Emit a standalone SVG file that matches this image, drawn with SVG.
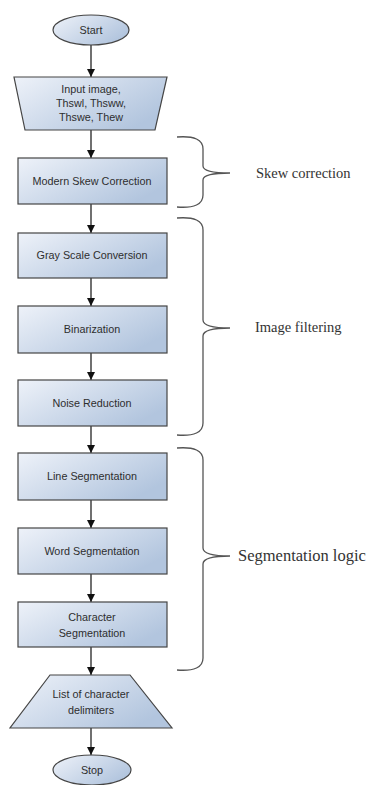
<svg xmlns="http://www.w3.org/2000/svg" width="370" height="785" viewBox="0 0 370 785">
  <defs>
    <linearGradient id="fillGrad" x1="0" y1="0" x2="1" y2="0.6">
      <stop offset="0" stop-color="#eef2f9"/>
      <stop offset="1" stop-color="#b2c5de"/>
    </linearGradient>
    <marker id="arrow" viewBox="0 0 10 10" refX="10" refY="5" markerWidth="8" markerHeight="8" markerUnits="userSpaceOnUse" orient="auto">
      <path d="M0,0 L10,5 L0,10 z" fill="#111"/>
    </marker>
    <style>
      .shape { fill: url(#fillGrad); stroke: #454545; stroke-width: 1.2; }
      .lbl { font-family: "Liberation Sans", Arial, sans-serif; font-size: 10.8px; fill: #2e2e2e; text-anchor: middle; }
      .note { font-family: "Liberation Serif", "Times New Roman", serif; font-size: 14.5px; fill: #333; }
      .conn { stroke: #111; stroke-width: 1.2; fill: none; marker-end: url(#arrow); }
      .brace { stroke: #555; stroke-width: 1.3; fill: none; }
    </style>
  </defs>
  <rect width="370" height="785" fill="#ffffff"/>

  <!-- connectors -->
  <g id="connectors">
    <line class="conn" x1="91" y1="45" x2="91" y2="77"/>
    <line class="conn" x1="91" y1="130" x2="91" y2="158"/>
    <line class="conn" x1="91" y1="204" x2="91" y2="233"/>
    <line class="conn" x1="91" y1="278" x2="91" y2="306"/>
    <line class="conn" x1="91" y1="353" x2="91" y2="380"/>
    <line class="conn" x1="91" y1="426" x2="91" y2="453"/>
    <line class="conn" x1="91" y1="500" x2="91" y2="528"/>
    <line class="conn" x1="91" y1="574" x2="91" y2="602"/>
    <line class="conn" x1="91" y1="647" x2="91" y2="675"/>
    <line class="conn" x1="91" y1="728" x2="91" y2="755"/>
  </g>

  <g id="start">
    <ellipse class="shape" cx="91" cy="30" rx="38" ry="15"/>
    <text class="lbl" x="91" y="34">Start</text>
  </g>

  <g id="input">
    <polygon class="shape" points="14,77 167,77 155,130 25,130"/>
    <text class="lbl" x="91" y="93">Input image,</text>
    <text class="lbl" x="91" y="107">Thswl, Thsww,</text>
    <text class="lbl" x="91" y="121">Thswe, Thew</text>
  </g>

  <g id="skew">
    <rect class="shape" x="18" y="158" width="149" height="46"/>
    <text class="lbl" x="92" y="185">Modern Skew Correction</text>
  </g>

  <g id="gray">
    <rect class="shape" x="18" y="233" width="149" height="45"/>
    <text class="lbl" x="92" y="259">Gray Scale Conversion</text>
  </g>

  <g id="binarization">
    <rect class="shape" x="18" y="306" width="149" height="47"/>
    <text class="lbl" x="92" y="333">Binarization</text>
  </g>

  <g id="noise">
    <rect class="shape" x="18" y="380" width="149" height="46"/>
    <text class="lbl" x="92" y="407">Noise Reduction</text>
  </g>

  <g id="line-seg">
    <rect class="shape" x="18" y="453" width="149" height="47"/>
    <text class="lbl" x="92" y="480">Line Segmentation</text>
  </g>

  <g id="word-seg">
    <rect class="shape" x="18" y="528" width="149" height="46"/>
    <text class="lbl" x="92" y="555">Word Segmentation</text>
  </g>

  <g id="char-seg">
    <rect class="shape" x="18" y="602" width="149" height="45"/>
    <text class="lbl" x="92" y="621">Character</text>
    <text class="lbl" x="92" y="637">Segmentation</text>
  </g>

  <g id="delimiters">
    <polygon class="shape" points="50,675 130,675 172,728 10,728"/>
    <text class="lbl" x="91" y="698">List of character</text>
    <text class="lbl" x="91" y="714">delimiters</text>
  </g>

  <g id="stop">
    <ellipse class="shape" cx="92" cy="770" rx="39" ry="15"/>
    <text class="lbl" x="92" y="774">Stop</text>
  </g>

  <!-- stage braces and their captions -->
  <g id="stage-skew">
    <path class="brace" d="M177,137 Q203,135 203,149 L203,166 Q203,173 230,173 Q203,173 203,180 L203,195 Q203,209 177,207"/>
    <text class="note" x="256" y="178">Skew correction</text>
  </g>

  <g id="stage-filter">
    <path class="brace" d="M177,218 Q203,216 203,230 L203,320 Q203,328 230,328 Q203,328 203,336 L203,423 Q203,437 177,435"/>
    <text class="note" x="255" y="332">Image filtering</text>
  </g>

  <g id="stage-seg">
    <path class="brace" d="M177,448 Q203,446 203,460 L203,548 Q203,556 230,556 Q203,556 203,564 L203,658 Q203,672 177,670"/>
    <text class="note" x="238" y="561" style="font-size:16.5px">Segmentation logic</text>
  </g>
</svg>
